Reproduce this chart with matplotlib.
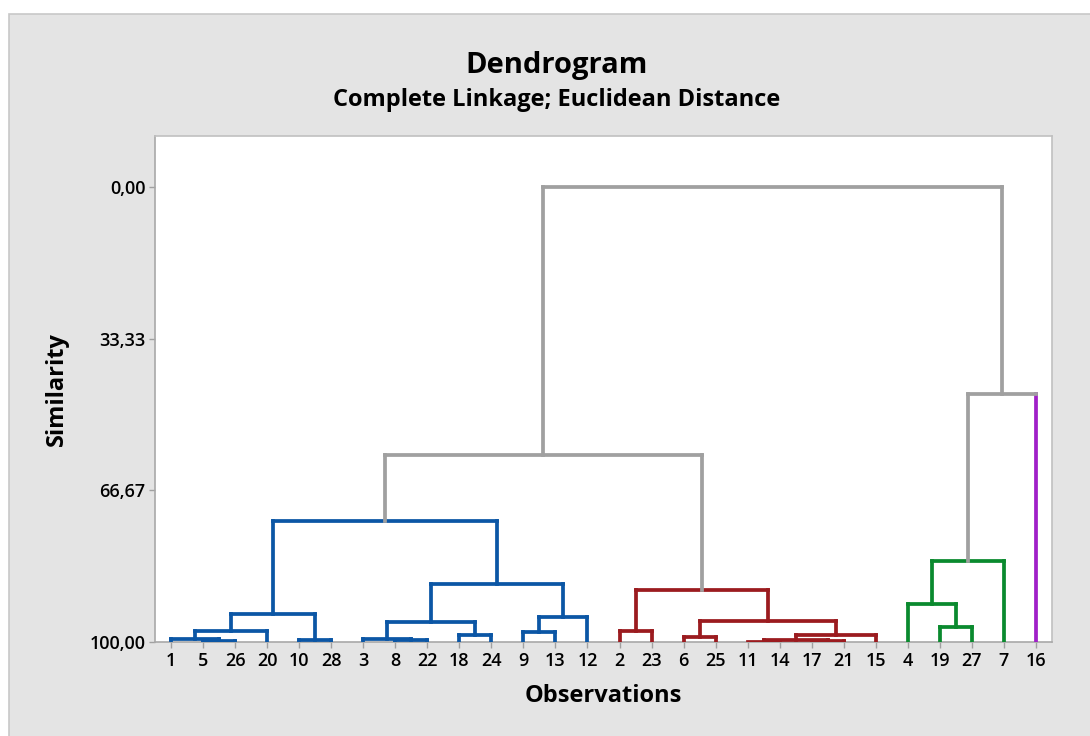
import numpy as np
import matplotlib
matplotlib.use('Agg')
import matplotlib.pyplot as plt
from matplotlib.patches import Rectangle

plt.rcParams['font.family'] = ['Open Sans', 'DejaVu Sans']

# leaf order along the x axis
leaves = [1, 5, 26, 20, 10, 28, 3, 8, 22, 18, 24, 9, 13, 12,
          2, 23, 6, 25, 11, 14, 17, 21, 15, 4, 19, 27, 7, 16]

# merges: left child, right child, similarity level, cluster
# children are leaf numbers (int) or earlier merges ('m0', 'm1', ...)
merge_left = [5, 1, 'm1', 10, 'm2', 8, 3, 18, 'm6', 9, 'm9', 'm8', 'm4',
              2, 6, 11, 17, 'm15', 'm17', 'm14', 'm13',
              19, 4, 'm22',
              'm12', 'm23', 'm24']
merge_right = [26, 'm0', 20, 28, 'm3', 22, 'm5', 24, 'm7', 13, 12, 'm10', 'm11',
               23, 25, 14, 21, 'm16', 15, 'm18', 'm19',
               27, 'm21', 7,
               'm20', 16, 'm25']
merge_sim = [99.8, 99.3, 97.6, 99.6, 93.9, 99.6, 99.3, 98.5, 95.5, 97.8, 94.5, 87.2, 73.5,
             97.6, 98.9, 99.9, 99.8, 99.6, 98.5, 95.4, 88.6,
             96.6, 91.7, 82.3,
             59.0, 45.4, 0.0]
merge_group = ['blue'] * 13 + ['red'] * 8 + ['green'] * 3 + ['gray'] * 3

colors = {'blue': '#0B56A5', 'red': '#9B1B1F', 'green': '#0A8A2E',
          'gray': '#A0A0A0', 'purple': '#A020C8'}
single_leaf_color = {16: 'purple'}

ytick_vals = [0, 33.33, 66.67, 100]
ytick_labels = ['0,00', '33,33', '66,67', '100,00']

fig = plt.figure(figsize=(10.9, 7.36), dpi=100)
fig.patch.set_facecolor('white')
fig.patches.append(Rectangle((9 / 1090, -0.01), 1.0, 1 - 14 / 736 + 0.01,
                             transform=fig.transFigure, facecolor='#E4E4E4',
                             edgecolor='#C8C8C8', lw=1.2, zorder=-10))

ax = fig.add_axes([155 / 1090, 94 / 736, 897 / 1090, 506 / 736])
ax.set_facecolor('white')
ax.set_zorder(5)

# positions of leaves and merges
pos = {}
hgt = {}
for i, lf in enumerate(leaves):
    pos[lf] = i
    hgt[lf] = 100.0

for k in range(len(merge_sim)):
    a, b, s, g = merge_left[k], merge_right[k], merge_sim[k], merge_group[k]
    xa, xb = pos[a], pos[b]
    c = colors[g]
    leg_colors = []
    for ch in (a, b):
        if g == 'gray' and ch in single_leaf_color:
            leg_colors.append(colors[single_leaf_color[ch]])
        else:
            leg_colors.append(c)
    ax.plot([xa, xa], [hgt[a], s], color=leg_colors[0], lw=2.7, solid_capstyle='projecting', zorder=3)
    ax.plot([xb, xb], [hgt[b], s], color=leg_colors[1], lw=2.7, solid_capstyle='projecting', zorder=3)
    ax.plot([xa, xb], [s, s], color=c, lw=2.7, solid_capstyle='projecting', zorder=3)
    name = 'm%d' % k
    pos[name] = (xa + xb) / 2
    hgt[name] = s

ax.set_xlim(-0.5, 27.5)
ax.set_ylim(100, -11.2)

ax.set_xticks(range(len(leaves)))
ax.set_xticklabels([str(l) for l in leaves], fontsize=13, fontweight='semibold')
ax.set_yticks(ytick_vals)
ax.set_yticklabels(ytick_labels, fontsize=13, fontweight='semibold')
ax.tick_params(axis='both', colors='#A0A0A0', labelcolor='black', length=4, width=1)
ax.tick_params(axis='x', pad=3)
ax.tick_params(axis='y', pad=3)

for side in ['left', 'bottom']:
    ax.spines[side].set_color('#A8A8A8')
    ax.spines[side].set_linewidth(1.2)
for side in ['top', 'right']:
    ax.spines[side].set_color('#C0C0C0')
    ax.spines[side].set_linewidth(1.2)

ax.set_xlabel('Observations', fontsize=17, fontweight='bold')
ax.set_ylabel('Similarity', fontsize=17, fontweight='bold')
ax.xaxis.set_label_coords(0.5, (642 - 696) / 506)
ax.xaxis.label.set_verticalalignment('center')
ax.yaxis.set_label_coords((57 - 155) / 897, (642 - 389) / 506)
ax.yaxis.label.set_verticalalignment('center')

fig.text(557 / 1090, 1 - 65 / 736, 'Dendrogram', ha='center', va='center',
         fontsize=21, fontweight='bold')
fig.text(557 / 1090, 1 - 100 / 736, 'Complete Linkage; Euclidean Distance', ha='center', va='center',
         fontsize=17, fontweight='bold')

fig.savefig('out.png', dpi=100)
